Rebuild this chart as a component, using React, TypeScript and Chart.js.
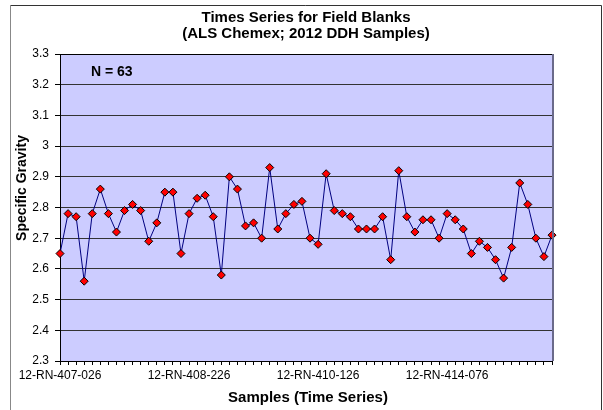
import React, { useEffect, useRef } from "react";
import { Chart, registerables } from "chart.js";

Chart.register(...registerables);

const specificGravity: number[] = [
  2.65, 2.78, 2.77, 2.56, 2.78, 2.86, 2.78, 2.72, 2.79, 2.81,
  2.79, 2.69, 2.75, 2.85, 2.85, 2.65, 2.78, 2.83, 2.84, 2.77,
  2.58, 2.90, 2.86, 2.74, 2.75, 2.70, 2.93, 2.73, 2.78, 2.81,
  2.82, 2.70, 2.68, 2.91, 2.79, 2.78, 2.77, 2.73, 2.73, 2.73,
  2.77, 2.63, 2.92, 2.77, 2.72, 2.76, 2.76, 2.70, 2.78, 2.76,
  2.73, 2.65, 2.69, 2.67, 2.63, 2.57, 2.67, 2.88, 2.81, 2.70,
  2.64, 2.71,
];

const tickLabels: string[] = ["12-RN-407-026", "12-RN-408-226", "12-RN-410-126", "12-RN-414-076"];
const tickEvery = 16;
const categories: string[] = specificGravity.map((_, i) =>
  i % tickEvery === 0 ? tickLabels[i / tickEvery] ?? "" : ""
);

const titleLines: string[] = ["Times Series for Field Blanks", "(ALS Chemex; 2012 DDH Samples)"];
const nLabel = "N = 63";
const yTitle = "Specific Gravity";
const xTitle = "Samples (Time Series)";
const yMin = 2.3;
const yMax = 3.3;
const yStep = 0.1;

const FONT = '"Liberation Sans", Arial, sans-serif';

export default function App() {
  const ref = useRef<HTMLCanvasElement | null>(null);

  useEffect(() => {
    document.body.style.margin = "0";
    const canvas = ref.current!;
    const decor = {
      id: "decor",
      beforeDraw(chart: any) {
        const { ctx, chartArea: a } = chart;
        ctx.save();
        ctx.fillStyle = "#ffffff";
        ctx.fillRect(0, 0, chart.width, chart.height);
        ctx.fillStyle = "#CCCCFF";
        ctx.fillRect(a.left, a.top, a.right - a.left, a.bottom - a.top);
        ctx.restore();
      },
      afterDraw(chart: any) {
        const { ctx, chartArea: a } = chart;
        ctx.save();
        ctx.strokeStyle = "#000000";
        ctx.lineWidth = 1;
        ctx.beginPath();
        ctx.moveTo(a.left, a.top + 0.5);
        ctx.lineTo(a.right, a.top + 0.5);
        ctx.stroke();
        ctx.strokeStyle = "#6a6a8a";
        ctx.lineWidth = 2;
        ctx.beginPath();
        ctx.moveTo(a.right + 1, a.top);
        ctx.lineTo(a.right + 1, a.bottom);
        ctx.stroke();
        ctx.lineWidth = 1;
        ctx.strokeStyle = "#333333";
        ctx.beginPath();
        ctx.moveTo(10, 5.5);
        ctx.lineTo(601.5, 5.5);
        ctx.lineTo(601.5, 410);
        ctx.stroke();
        ctx.strokeStyle = "#888888";
        ctx.beginPath();
        ctx.moveTo(10.5, 5);
        ctx.lineTo(10.5, 410);
        ctx.stroke();
        ctx.fillStyle = "#000000";
        ctx.textAlign = "center";
        ctx.textBaseline = "middle";
        ctx.font = `bold 15px ${FONT}`;
        ctx.fillText(titleLines[0], 306, 18);
        ctx.fillText(titleLines[1], 306, 34);
        ctx.fillText(xTitle, 308, 398);
        ctx.font = `bold 14px ${FONT}`;
        ctx.textAlign = "left";
        ctx.fillText(nLabel, 91, 72);
        ctx.translate(22, 188);
        ctx.rotate(-Math.PI / 2);
        ctx.textAlign = "center";
        ctx.fillText(yTitle, 0, 0);
        ctx.restore();
      },
    };

    const chart = new Chart(canvas, {
      type: "line",
      data: {
        labels: categories,
        datasets: [
          {
            data: specificGravity,
            borderColor: "#000080",
            borderWidth: 1,
            pointStyle: "rectRot",
            pointRadius: 4,
            pointBackgroundColor: "#FF0000",
            pointBorderColor: "#000000",
            pointBorderWidth: 1,
            tension: 0,
            fill: false,
          },
        ],
      },
      options: {
        animation: false,
        responsive: false,
        layout: { padding: { top: 54, right: 51, left: 0, bottom: 0 } },
        plugins: {
          legend: { display: false },
          title: { display: false },
          tooltip: { enabled: false },
        },
        scales: {
          x: {
            type: "category",
            offset: false,
            afterFit(scale: any) {
              scale.height = 49;
            },
            grid: {
              offset: false,
              drawOnChartArea: false,
              drawTicks: true,
              tickLength: 4,
              color: "#000000",
            },
            border: { color: "#000000", width: 1 },
            ticks: {
              autoSkip: false,
              maxRotation: 0,
              minRotation: 0,
              padding: 3,
              color: "#000000",
              font: { family: FONT, size: 12 },
            },
          },
          y: {
            min: yMin,
            max: yMax,
            afterFit(scale: any) {
              scale.width = 60;
            },
            grid: {
              color: "#333333",
              lineWidth: 1,
              drawTicks: true,
              tickLength: 5,
              tickColor: "#000000",
            },
            border: { color: "#000000", width: 1 },
            ticks: {
              stepSize: yStep,
              padding: 6,
              color: "#000000",
              font: { family: FONT, size: 12 },
              callback: (v: any) => String(Number(Number(v).toFixed(1))),
            },
          },
        },
      },
      plugins: [decor],
    });
    return () => chart.destroy();
  }, []);

  return <canvas ref={ref} width={603} height={410} style={{ display: "block", width: 603, height: 410 }} />;
}
